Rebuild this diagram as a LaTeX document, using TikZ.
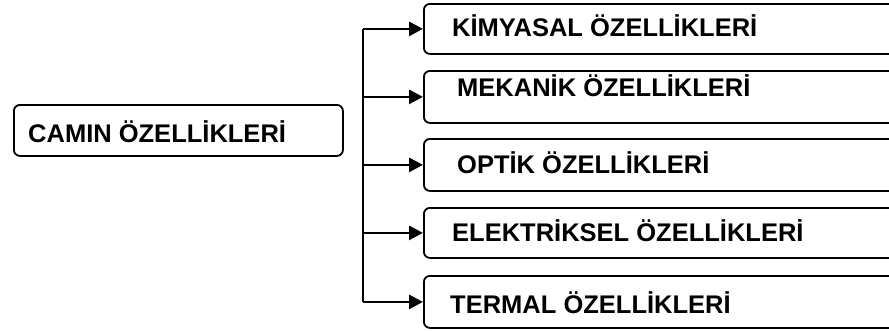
\documentclass[tikz,border=0pt]{standalone}
\usepackage{fontspec}
\setmainfont{Liberation Sans}
\usetikzlibrary{arrows.meta}
\begin{document}
\begin{tikzpicture}[x=1pt,y=-1pt,
  box/.style={draw=black, line width=1.8pt, rounded corners=6pt, inner sep=0pt, anchor=north west},
  label/.style={anchor=base west, inner sep=0pt, font=\fontsize{25.5}{30}\selectfont\bfseries},
  link/.style={line width=2.8pt, -{Triangle[length=14pt,width=14pt]}},
  trunk/.style={line width=2.8pt}]
\clip (0,0) rectangle (889,330);
\fill[white] (0,0) rectangle (889,330);

% source box
\node[box, minimum width=329pt, minimum height=51pt] (src) at (13,104) {};
\node[label] (srct) at (28,142) {CAMIN ÖZELLİKLERİ};

% property boxes (they run past the right edge)
\node[box, minimum width=490pt, minimum height=50pt] (b1) at (423,3) {};
\node[box, minimum width=490pt, minimum height=52pt] (b2) at (423,70) {};
\node[box, minimum width=490pt, minimum height=52pt] (b3) at (423,138) {};
\node[box, minimum width=490pt, minimum height=50pt] (b4) at (423,207) {};
\node[box, minimum width=490pt, minimum height=52pt] (b5) at (423,275) {};

\node[label] (t1) at (452,36) {KİMYASAL ÖZELLİKLERİ};
\node[label] (t2) at (457,96) {MEKANİK ÖZELLİKLERİ};
\node[label] (t3) at (457,173) {OPTİK ÖZELLİKLERİ};
\node[label] (t4) at (452,241) {ELEKTRİKSEL ÖZELLİKLERİ};
\node[label] (t5) at (450,313) {TERMAL ÖZELLİKLERİ};

% trunk and branches
\coordinate (tx) at (363,0);
\draw[trunk] (b1.west -| tx) -- (b5.west -| tx);
\foreach \b in {b1,b2,b3,b4,b5}
  \draw[link] (\b.west -| tx) -- (\b.west);
\end{tikzpicture}
\end{document}
